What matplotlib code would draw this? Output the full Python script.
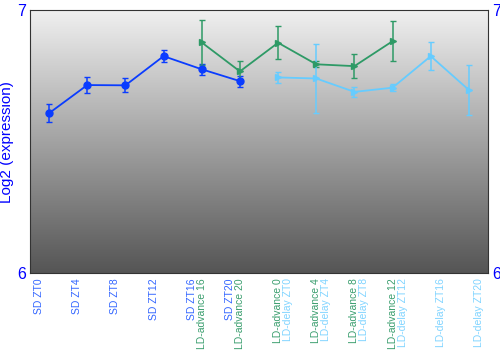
import numpy as np
import matplotlib.pyplot as plt
from matplotlib.colors import LinearSegmentedColormap
from matplotlib.transforms import offset_copy

plt.rcParams['font.family'] = ['Liberation Sans', 'DejaVu Sans']

# Data
sd_pos = [0, 1, 2, 3, 4, 5]
sd_labels = ["SD ZT0", "SD ZT4", "SD ZT8", "SD ZT12", "SD ZT16", "SD ZT20"]
sd_vals = [6.608, 6.715, 6.714, 6.825, 6.775, 6.730]
sd_err = [0.034, 0.032, 0.027, 0.023, 0.020, 0.021]

adv_pos = [4, 5, 6, 7, 8, 9]
adv_labels = ["LD-advance 16", "LD-advance 20", "LD-advance 0",
              "LD-advance 4", "LD-advance 8", "LD-advance 12"]
adv_vals = [6.877, 6.767, 6.876, 6.794, 6.787, 6.882]
adv_err = [0.087, 0.038, 0.063, 0.012, 0.046, 0.075]

del_pos = [6, 7, 8, 9, 10, 11]
del_labels = ["LD-delay ZT0", "LD-delay ZT4", "LD-delay ZT8",
              "LD-delay ZT12", "LD-delay ZT16", "LD-delay ZT20"]
del_vals = [6.744, 6.740, 6.689, 6.705, 6.825, 6.696]
del_err = [0.021, 0.130, 0.018, 0.013, 0.052, 0.095]

series = [
    (sd_pos, sd_vals, sd_err, sd_labels, "#0a3cff", "#3366ff", "o", -10),
    (adv_pos, adv_vals, adv_err, adv_labels, "#2e9a66", "#3a9e6e", ">", 0),
    (del_pos, del_vals, del_err, del_labels, "#66ccff", "#80d4ff", ">", 10),
]

fig = plt.figure(figsize=(5, 3.5), dpi=100)
ax = fig.add_axes([0.06, 0.22, 0.916, 0.751])

ax.set_xlim(-0.5, 11.5)
ax.set_ylim(6, 7)

# grey gradient background
grad = np.linspace(0, 1, 256).reshape(-1, 1)
bg = LinearSegmentedColormap.from_list("bg", ["#555555", "#f0f0f0"])
ax.imshow(grad, cmap=bg, aspect="auto", extent=[-0.5, 11.5, 6, 7],
          origin="lower", zorder=0)

for pos, vals, err, labels, color, lcolor, marker, dx in series:
    ax.errorbar(pos, vals, yerr=err, color=color, marker=marker, markersize=5,
                linewidth=1.3, elinewidth=1.1, capsize=2.5, capthick=1,
                ecolor=color, zorder=3)
    trans = offset_copy(ax.get_xaxis_transform(), fig=fig, x=dx, y=-5,
                        units="dots")
    for p, lab in zip(pos, labels):
        ax.text(p, 0, lab, rotation=90, ha="center", va="top",
                color=lcolor, fontsize=7.5, transform=trans)

ax.set_xticks([])
ax.set_yticks([6, 7])
ax.tick_params(axis="y", colors="blue", labelsize=11.5, length=0, pad=3,
               right=True, labelright=True)
ax.set_ylabel("Log2 (expression)", color="blue", fontsize=11, labelpad=2)
for s in ax.spines.values():
    s.set_color("#333333")
    s.set_linewidth(0.8)

fig.savefig("out.png", dpi=100)
